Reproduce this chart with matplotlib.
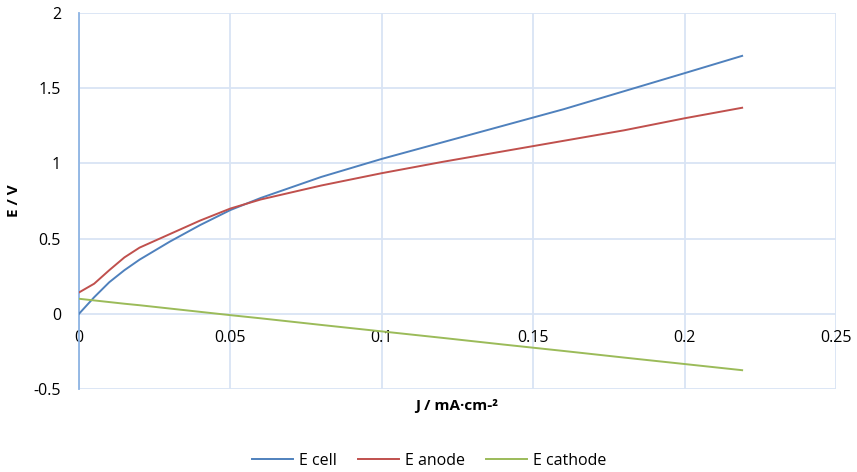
import matplotlib
matplotlib.use("Agg")
import matplotlib.pyplot as plt

plt.rcParams['font.family'] = ['Open Sans', 'DejaVu Sans']

# Current density (mA/cm^2)
J = [0, 0.005, 0.01, 0.015, 0.02, 0.03, 0.04, 0.05, 0.06, 0.08,
     0.1, 0.12, 0.14, 0.16, 0.18, 0.2, 0.219]
# Potentials (V)
E_cell = [0.0, 0.11, 0.21, 0.29, 0.36, 0.48, 0.59, 0.69, 0.77, 0.91,
          1.03, 1.14, 1.25, 1.36, 1.48, 1.60, 1.715]
E_anode = [0.142, 0.20, 0.29, 0.375, 0.44, 0.53, 0.62, 0.70, 0.76, 0.853,
           0.935, 1.01, 1.08, 1.15, 1.22, 1.30, 1.37]
E_cathode = [0.10, 0.089, 0.078, 0.067, 0.057, 0.035, 0.013, -0.009, -0.030, -0.074,
             -0.117, -0.160, -0.204, -0.247, -0.291, -0.334, -0.375]

x_ticks = [0, 0.05, 0.1, 0.15, 0.2, 0.25]
x_tick_labels = ['0', '0.05', '0.1', '0.15', '0.2', '0.25']
y_ticks = [-0.5, 0, 0.5, 1, 1.5, 2]
y_tick_labels = ['-0.5', '0', '0.5', '1', '1.5', '2']

fig = plt.figure(figsize=(8.57, 4.72), dpi=100)
ax = fig.add_axes([79 / 857, 1 - 389 / 472, (836 - 79) / 857, (389 - 13) / 472])

grid_color = '#D9E4F4'
ax.plot(J, E_cell, color='#4F81BD', lw=1.4, label='E cell', zorder=3)
ax.plot(J, E_anode, color='#C0504D', lw=1.4, label='E anode', zorder=3)
ax.plot(J, E_cathode, color='#9BBB59', lw=1.4, label='E cathode', zorder=3)

ax.set_xlim(0, 0.25)
ax.set_ylim(-0.5, 2)
ax.set_xticks(x_ticks)
ax.set_xticklabels(x_tick_labels)
ax.set_yticks(y_ticks)
ax.set_yticklabels(y_tick_labels)
ax.grid(True, color=grid_color, lw=1.3, zorder=0)
ax.set_axisbelow(True)

for side in ['top', 'right']:
    ax.spines[side].set_visible(False)
ax.spines['bottom'].set_position(('data', 0))
ax.spines['bottom'].set_visible(False)
ax.spines['left'].set_color('#8EB4E3')
ax.spines['left'].set_linewidth(1.3)

ax.tick_params(axis='x', length=0, pad=12, labelsize=11.5, colors='#000000')
ax.tick_params(axis='y', length=0, pad=13, labelsize=11.5, colors='#000000')

fig.text(14 / 857, 1 - 201 / 472, 'E / V', rotation=90, ha='center', va='center',
         fontsize=11, fontweight='bold')
fig.text(457 / 857, 1 - 406 / 472, 'J / mA·cm-²', ha='center', va='center',
         fontsize=11, fontweight='bold')

fig.legend(loc='center', bbox_to_anchor=(429 / 857, 1 - 461 / 472), ncol=3,
           frameon=False, fontsize=11.5, handlelength=2.6, columnspacing=1.3,
           handletextpad=0.35)

fig.savefig('out.png', dpi=100)
